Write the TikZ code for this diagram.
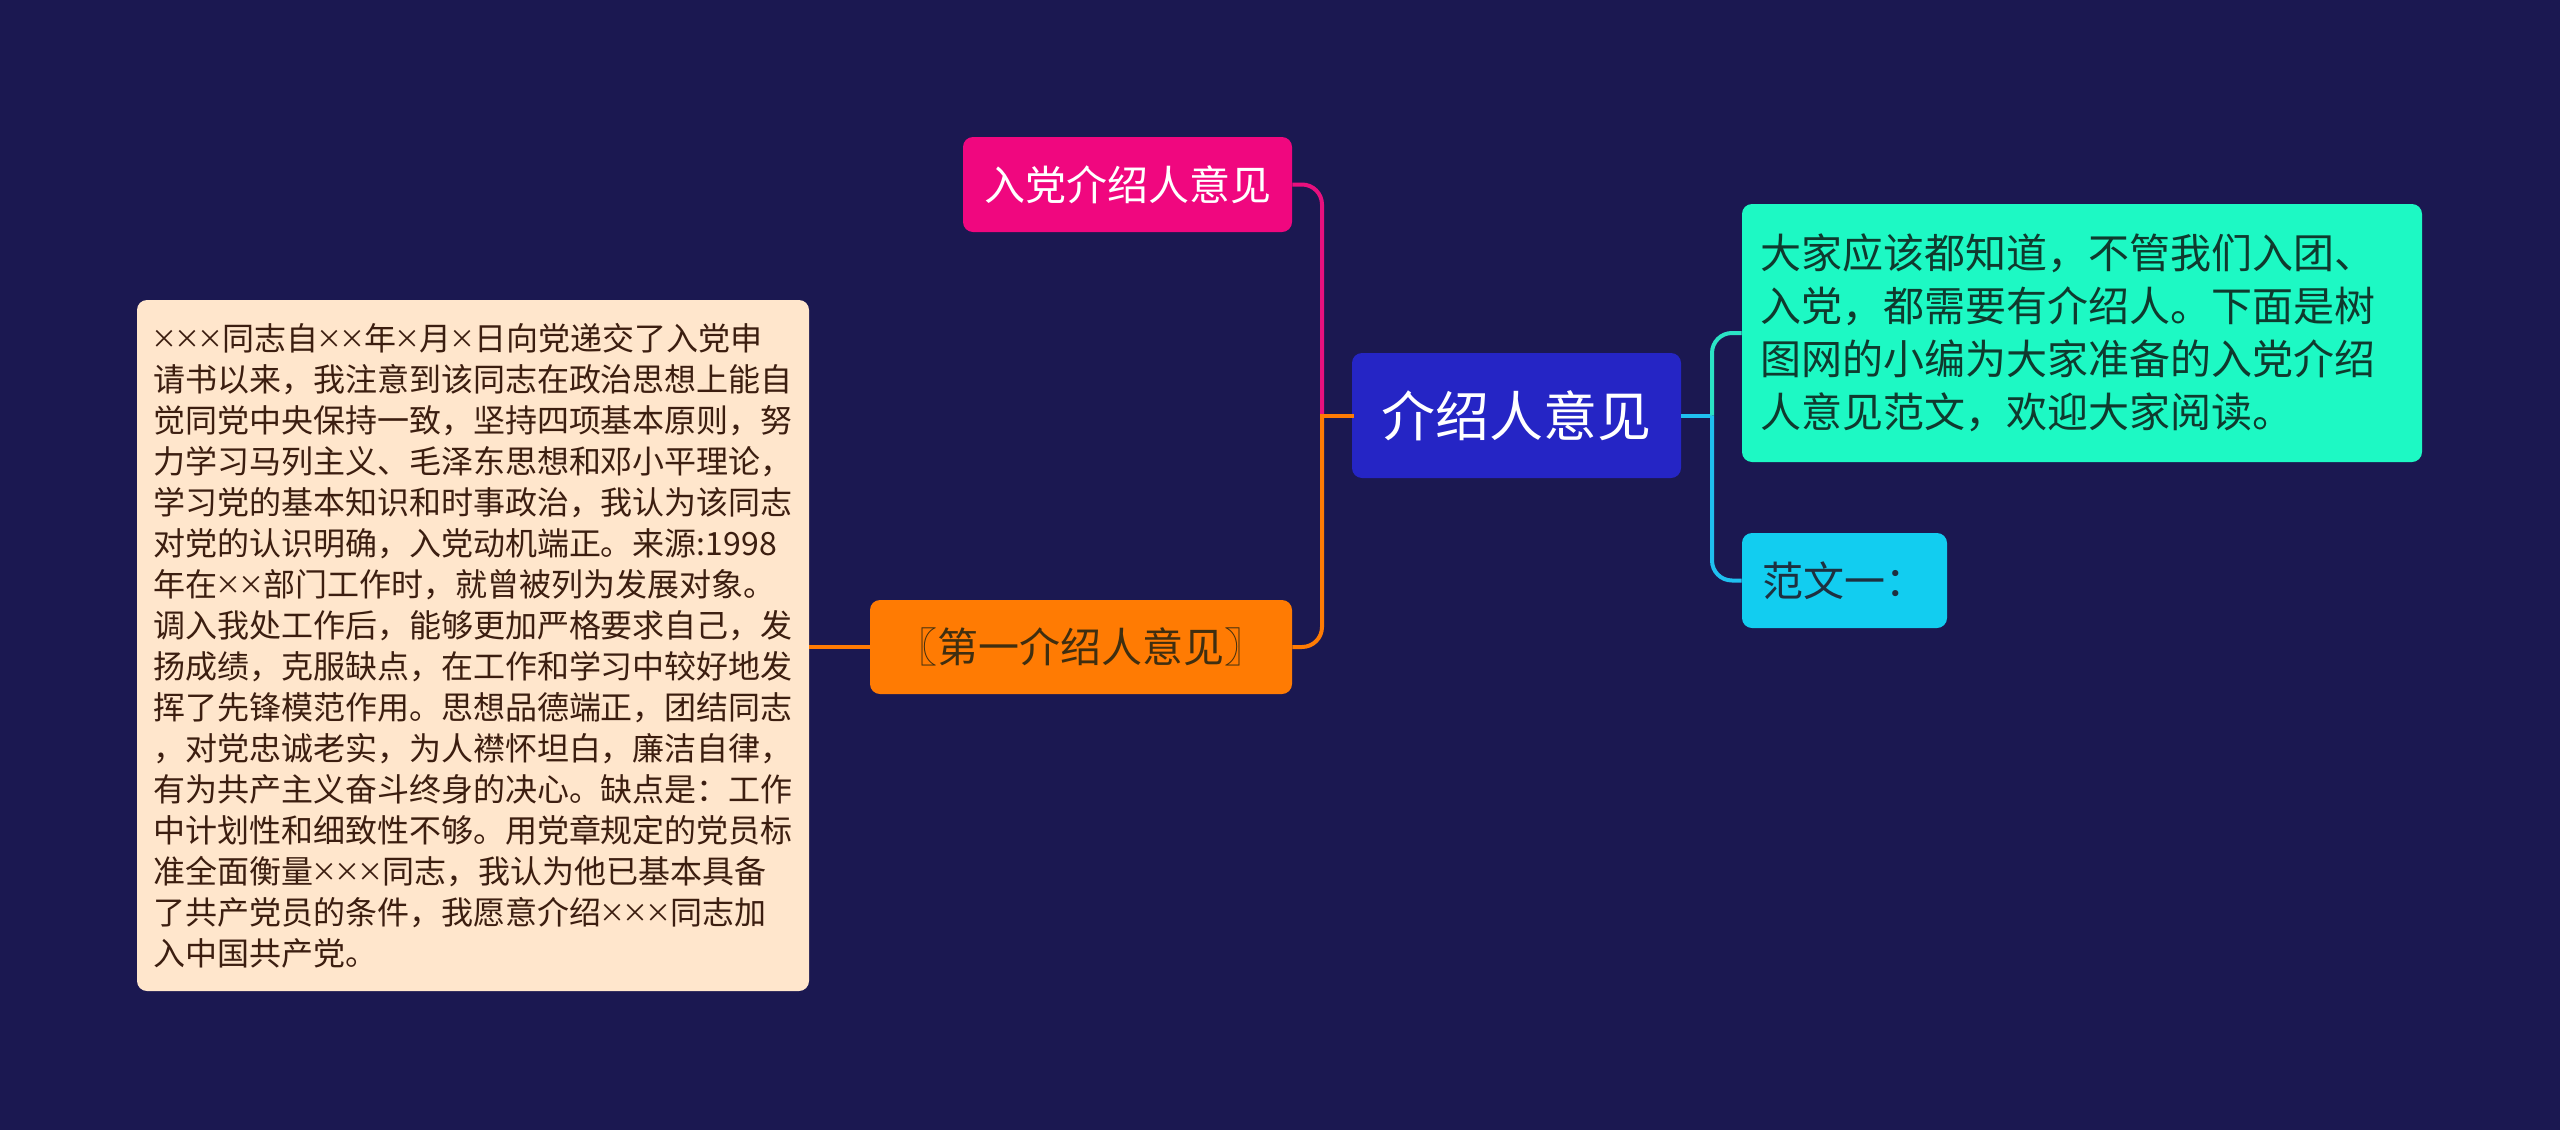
\documentclass[tikz,border=0pt]{standalone}
\usepackage{fontspec}
\setmainfont{Noto Sans CJK SC}
\usepackage{xcolor}
\definecolor{colBg}{HTML}{1B1851}
\definecolor{colRoot}{HTML}{2525C5}
\definecolor{colPink}{HTML}{F0077F}
\definecolor{colPinkLine}{HTML}{E8107E}
\definecolor{colOrange}{HTML}{FF7B03}
\definecolor{colOrangeText}{HTML}{3F2E10}
\definecolor{colPeach}{HTML}{FFE6CC}
\definecolor{colBrown}{HTML}{3C1E10}
\definecolor{colTeal}{HTML}{1DF9C4}
\definecolor{colTealLine}{HTML}{2BE3C6}
\definecolor{colTealText}{HTML}{0F3A2E}
\definecolor{colCyan}{HTML}{12CDF0}
\definecolor{colCyanLine}{HTML}{1FC0F0}
\definecolor{colCyanText}{HTML}{1E3040}
\usepackage{tikz}
\usetikzlibrary{positioning}
\newcommand{\crx}{\makebox[0.72em]{\raisebox{0.8pt}{\fontsize{13pt}{13pt}\selectfont ×}}}

\begin{document}
\begin{tikzpicture}[x=0.5pt, y=-0.5pt,
        box/.style={rectangle, rounded corners=5pt, inner sep=0pt, align=center},
        lnk/.style={line width=2pt, rounded corners=10pt}]
        % Sfondo
        \fill[colBg] (0,0) rectangle (2560,1130);
        % Nodo centrale
        \node[box, fill=colRoot, text=white, minimum width=164.5pt, minimum height=62.5pt,
            font=\fontsize{27pt}{32pt}\selectfont] (root) at (1516.5,415.5) {介绍人意见};
        % Ramo sinistro
        \node[box, fill=colPink, text=white, minimum width=164.5pt, minimum height=47.5pt,
            font=\fontsize{20.5pt}{26pt}\selectfont] (ruDang) at (1127.5,184.5) {入党介绍人意见};
        \node[box, fill=colOrange, text=colOrangeText, minimum width=211pt, minimum height=47pt,
            font=\fontsize{20.5pt}{26pt}\selectfont] (diYi) at (1081,647) {〖第一介绍人意见〗};
        \node[box, fill=colPeach, text=colBrown, text width=320pt, inner xsep=8pt,
            minimum height=345.5pt, align=left,
            font=\fontsize{16pt}{20.5pt}\selectfont] (yijian) at (473,645.5) {%
            \crx\crx\crx 同志自\crx\crx 年\crx 月\crx 日向党递交了入党申\\
            请书以来，我注意到该同志在政治思想上能自\\
            觉同党中央保持一致，坚持四项基本原则，努\\
            力学习马列主义、毛泽东思想和邓小平理论，\\
            学习党的基本知识和时事政治，我认为该同志\\
            对党的认识明确，入党动机端正。来源:1998\\
            年在\crx\crx 部门工作时，就曾被列为发展对象。\\
            调入我处工作后，能够更加严格要求自己，发\\
            扬成绩，克服缺点，在工作和学习中较好地发\\
            挥了先锋模范作用。思想品德端正，团结同志\\
            ，对党忠诚老实，为人襟怀坦白，廉洁自律，\\
            有为共产主义奋斗终身的决心。缺点是：工作\\
            中计划性和细致性不够。用党章规定的党员标\\
            准全面衡量\crx\crx\crx 同志，我认为他已基本具备\\
            了共产党员的条件，我愿意介绍\crx\crx\crx 同志加\\
            入中国共产党。};
        % Ramo destro
        \node[box, fill=colTeal, text=colTealText, text width=322pt, inner xsep=9pt,
            minimum height=129pt, align=left,
            font=\fontsize{20.5pt}{26.5pt}\selectfont] (intro) at (2082,333) {%
            大家应该都知道，不管我们入团、\\
            入党，都需要有介绍人。下面是树\\
            图网的小编为大家准备的入党介绍\\
            人意见范文，欢迎大家阅读。};
        \node[box, fill=colCyan, text=colCyanText, minimum width=102.5pt, minimum height=47.5pt,
            font=\fontsize{20.5pt}{26pt}\selectfont] (fanwen) at (1844.5,580.5) {范文一：};
        % Collegamenti
        \coordinate (jL) at (1322,415.5);
        \coordinate (jR) at (1712,415.5);
        \draw[lnk, colPinkLine] (ruDang.east) -| (jL);
        \draw[lnk, colOrange] (jL) |- (diYi.east);
        \draw[lnk, colOrange, line cap=rect] (root.west) -- (jL);
        \draw[lnk, colOrange] (diYi.west) -- (diYi.west -| yijian.east);
        \draw[lnk, colCyanLine] (root.east) -- (jR);
        \draw[lnk, colTealLine] (jR) |- (intro.west);
        \draw[lnk, colCyanLine] (jR) |- (fanwen.west);
    \end{tikzpicture}
\end{document}
